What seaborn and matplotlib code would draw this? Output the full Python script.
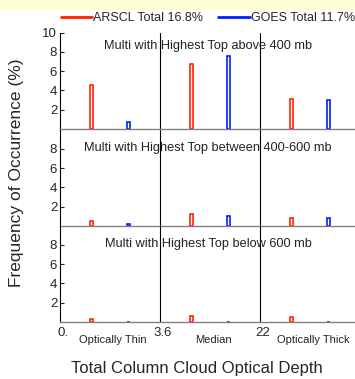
import matplotlib
matplotlib.use("Agg")
import matplotlib.pyplot as plt
from matplotlib.lines import Line2D
from matplotlib.patches import Rectangle
import seaborn as sns
import pandas as pd

categories = ["Optically Thin", "Median", "Optically Thick"]
edge_labels = ["0.", "3.6", "22"]
panel_titles = [
    "Multi with Highest Top above 400 mb",
    "Multi with Highest Top between 400-600 mb",
    "Multi with Highest Top below 600 mb",
]
arscl_vals = [
    [4.6, 6.7, 3.1],
    [0.5, 1.2, 0.8],
    [0.35, 0.6, 0.5],
]
goes_vals = [
    [0.7, 7.6, 3.0],
    [0.2, 1.0, 0.8],
    [0.05, 0.05, 0.05],
]
legend_labels = ["ARSCL Total 16.8%", "GOES Total 11.7%"]

red = "#ff2000"
blue = "#0020ff"

sns.set_style("white")
plt.rcParams["font.family"] = ["Liberation Sans", "DejaVu Sans"]

fig = plt.figure(figsize=(3.55, 3.79), dpi=100)
fig.patches.append(Rectangle((0, 1 - 10 / 379), 1, 10 / 379, transform=fig.transFigure,
                             facecolor="#ffffd4", edgecolor="none", zorder=0))

left = 60 / 355
width = 300 / 355
h = 96.5 / 379
bottoms = [1 - 129 / 379, 1 - 226 / 379, 1 - 322 / 379]
title_y = [8.6, 8.1, 8.1]

for i in range(3):
    ax = fig.add_axes([left, bottoms[i], width, h])
    df = pd.DataFrame({
        "category": categories * 2,
        "freq": arscl_vals[i] + goes_vals[i],
        "source": ["ARSCL"] * 3 + ["GOES"] * 3,
    })
    sns.barplot(data=df, x="category", y="freq", hue="source", order=categories,
                palette={"ARSCL": red, "GOES": blue}, width=0.74, gap=0.925,
                fill=False, linewidth=1.2, errorbar=None, legend=False, ax=ax)
    ax.set_xlim(-0.5, 2.5)
    ax.set_ylim(0, 10)
    ax.axvline(0.5, color="black", lw=0.8, zorder=0)
    ax.axvline(1.5, color="black", lw=0.8, zorder=0)
    ax.set_yticks([2, 4, 6, 8, 10] if i == 0 else [2, 4, 6, 8])
    ax.tick_params(axis="y", labelsize=9.5, direction="in", length=3, pad=2, left=True)
    ax.set_xticks([])
    ax.set_xlabel("")
    ax.set_ylabel("")
    ax.patch.set_alpha(0)
    for s in ["top", "right"]:
        ax.spines[s].set_visible(False)
    ax.spines["left"].set_color("black")
    ax.spines["left"].set_linewidth(0.8)
    ax.spines["bottom"].set_color("#808080")
    ax.spines["bottom"].set_linewidth(1.0)
    ax.text(0.98, title_y[i], panel_titles[i], ha="center", va="center",
            fontsize=9.2, color="#222222")
    if i == 2:
        for x, lab in zip([-0.5, 0.5, 1.5], edge_labels):
            ax.text(x + 0.03, -0.11, lab, transform=ax.get_xaxis_transform(),
                    ha="center", va="center", fontsize=9.5)
        for x, lab in enumerate(categories):
            ax.text(x + 0.03, -0.19, lab, transform=ax.get_xaxis_transform(),
                    ha="center", va="center", fontsize=8, color="#222222")

fig.text(197 / 355, 1 - 368 / 379, "Total Column Cloud Optical Depth",
         ha="center", va="center", fontsize=12)
fig.text(17 / 355, 1 - 173 / 379, "Frequency of Occurrence (%)",
         ha="center", va="center", rotation=90, fontsize=12.5)

handles = [Line2D([], [], color=red, lw=2), Line2D([], [], color=blue, lw=2)]
fig.legend(handles, legend_labels, loc="center", bbox_to_anchor=(208 / 355, 1 - 18 / 379),
           ncol=2, frameon=False, fontsize=9, handlelength=2.5, handletextpad=0.1,
           columnspacing=1.2, borderaxespad=0)

fig.savefig("out.png", dpi=100)
